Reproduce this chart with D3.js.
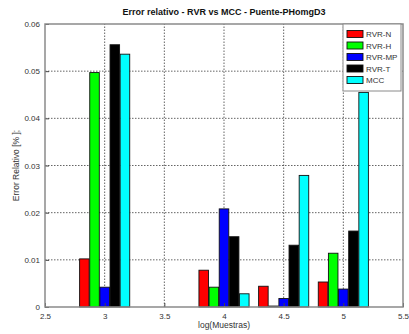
<!DOCTYPE html>
<html>
<head>
<meta charset="utf-8">
<script src="https://cdn.jsdelivr.net/npm/d3@7"></script>
<style>
  html, body { margin: 0; padding: 0; background: #fff; }
  svg { display: block; font-family: "Liberation Sans", Arial, Helvetica, sans-serif; }
</style>
</head>
<body>
<svg id="chart" width="409" height="334"></svg>
<script>
// Sample sizes on a log10 scale
const groups = [3, 4, 4.5, 5];
const series = ["RVR-N", "RVR-H", "RVR-MP", "RVR-T", "MCC"];
const colors = ["#ff0000", "#00ff00", "#0000ff", "#000000", "#00ffff"];
// Relative error for each method, one value per group
const rvrN  = [0.0102, 0.0078, 0.0044, 0.0053];
const rvrH  = [0.0497, 0.0042, 0.0002, 0.0114];
const rvrMP = [0.0042, 0.0208, 0.0018, 0.0038];
const rvrT  = [0.0556, 0.0149, 0.0131, 0.0161];
const mcc   = [0.0536, 0.0028, 0.0279, 0.0455];
const xTicks = [2.5, 3, 3.5, 4, 4.5, 5, 5.5];
const yTicks = [0, 0.01, 0.02, 0.03, 0.04, 0.05, 0.06];

const values = [rvrN, rvrH, rvrMP, rvrT, mcc];

const svg = d3.select("#chart");
const m = { left: 45, right: 6, top: 24, bottom: 27 };
const W = 409, H = 334;

const x = d3.scaleLinear().domain([2.5, 5.5]).range([m.left, W - m.right]);
const y = d3.scaleLinear().domain([0, 0.06]).range([H - m.bottom, m.top]);

const step = 0.085, barW = 0.08;

// Grid lines
const grid = svg.append("g").attr("stroke", "#222").attr("stroke-width", 0.7)
  .attr("stroke-dasharray", "1.5,1.5");
xTicks.slice(1, -1).forEach(t => {
  grid.append("line").attr("x1", x(t)).attr("x2", x(t))
    .attr("y1", y(0)).attr("y2", y(0.06));
});
yTicks.slice(1, -1).forEach(t => {
  grid.append("line").attr("x1", x(2.5)).attr("x2", x(5.5))
    .attr("y1", y(t)).attr("y2", y(t));
});

// Bars
const bars = svg.append("g");
values.forEach((vals, si) => {
  bars.selectAll(null).data(vals).enter().append("rect")
    .attr("x", (d, gi) => x(groups[gi] + (si - 2) * step - barW / 2))
    .attr("width", (d, gi) => x(groups[gi] + barW / 2) - x(groups[gi] - barW / 2))
    .attr("y", d => y(d))
    .attr("height", d => y(0) - y(d))
    .attr("fill", colors[si])
    .attr("stroke", "#111")
    .attr("stroke-width", 0.9);
});

// Axes
const xAxis = d3.axisBottom(x).tickValues(xTicks).tickSize(-4).tickPadding(6)
  .tickFormat(d3.format("~g"));
const yAxis = d3.axisLeft(y).tickValues(yTicks).tickSize(-4).tickPadding(5)
  .tickFormat(d3.format("~g"));

const gx = svg.append("g").attr("transform", `translate(0,${y(0)})`).call(xAxis);
const gy = svg.append("g").attr("transform", `translate(${x(2.5)},0)`).call(yAxis);
[gx, gy].forEach(g => {
  g.select(".domain").remove();
  g.selectAll("line").attr("stroke", "#444");
  g.selectAll("text").attr("fill", "#333").style("font-size", "8px");
});

// Frame
svg.append("rect").attr("x", x(2.5)).attr("y", y(0.06))
  .attr("width", x(5.5) - x(2.5)).attr("height", y(0) - y(0.06))
  .attr("fill", "none").attr("stroke", "#8a8a8a").attr("stroke-width", 1.5);

// Title and axis labels
svg.append("text").attr("x", (x(2.5) + x(5.5)) / 2).attr("y", 15)
  .attr("text-anchor", "middle").style("font-size", "9px").style("font-weight", "bold")
  .attr("fill", "#111").text("Error relativo - RVR vs MCC - Puente-PHomgD3");
svg.append("text").attr("x", (x(2.5) + x(5.5)) / 2).attr("y", 328)
  .attr("text-anchor", "middle").style("font-size", "8.5px").attr("fill", "#333")
  .text("log(Muestras)");
svg.append("text").attr("transform", `translate(19,${(y(0) + y(0.06)) / 2}) rotate(-90)`)
  .attr("text-anchor", "middle").style("font-size", "8.5px").attr("fill", "#333")
  .text("Error Relativo [% ];");

// Legend
const lg = svg.append("g").attr("transform", "translate(343,24)");
lg.append("rect").attr("x", 0).attr("y", 0).attr("width", 58).attr("height", 67)
  .attr("fill", "#fff").attr("stroke", "#8a8a8a").attr("stroke-width", 1);
series.forEach((s, i) => {
  const yy = 10 + i * 11.5;
  lg.append("rect").attr("x", 4).attr("y", yy - 3.5).attr("width", 16).attr("height", 7)
    .attr("fill", colors[i]).attr("stroke", "#111").attr("stroke-width", 0.9);
  lg.append("text").attr("x", 23).attr("y", yy + 3).style("font-size", "8px")
    .attr("fill", "#333").text(s);
});
</script>
</body>
</html>
